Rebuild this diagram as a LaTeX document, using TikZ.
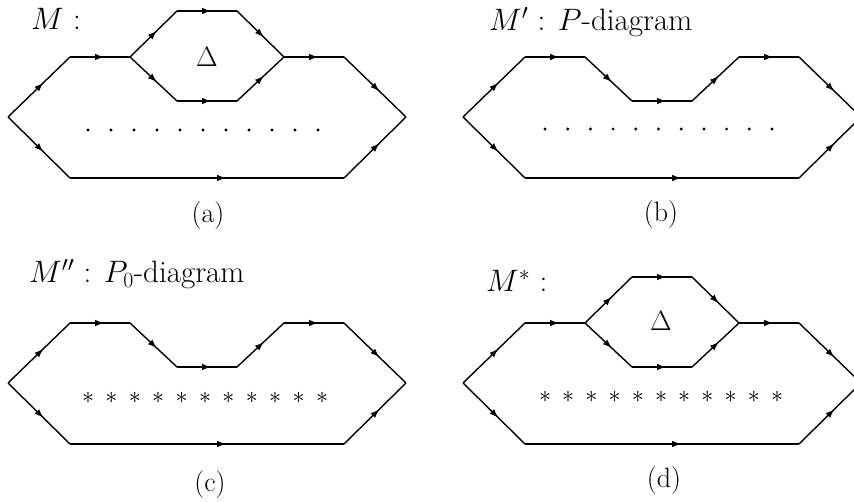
\RequirePackage{fix-cm}
\documentclass[tikz,border=0pt]{standalone}
\usetikzlibrary{arrows.meta,decorations.markings}
\newcommand{\mkverts}[3]{%
  \coordinate (#1L)  at ({#2-199},{117+#3});
  \coordinate (#1UL) at ({#2-137},{57+#3});
  \coordinate (#1A1) at ({#2-77},{57+#3});
  \coordinate (#1A2) at ({#2+77},{57+#3});
  \coordinate (#1UR) at ({#2+137},{57+#3});
  \coordinate (#1R)  at ({#2+199},{117+#3});
  \coordinate (#1BR) at ({#2+137},{178+#3});
  \coordinate (#1BL) at ({#2-137},{178+#3});
  \coordinate (#1T1) at ({#2-30},{11+#3});
  \coordinate (#1T2) at ({#2+30},{11+#3});
  \coordinate (#1D1) at ({#2-30},{101+#3});
  \coordinate (#1D2) at ({#2+30},{101+#3});
}
\tikzset{
  edge/.style={line width=1.4pt,postaction={decorate},
    decoration={markings,mark=at position 0.57 with {\arrow{Latex[length=9pt,width=6.5pt]}}}},
  head/.style={anchor=base west,inner sep=0pt,font=\fontsize{31}{34}\selectfont},
  sublabel/.style={inner sep=0pt,font=\fontsize{28}{30}\selectfont},
  deltalabel/.style={inner sep=0pt,font=\fontsize{28}{30}\selectfont},
  star/.style={inner sep=0pt,font=\fontsize{24}{26}\selectfont},
}
\begin{document}
\begin{tikzpicture}[x=1pt,y=-1pt]
\useasboundingbox (0,0) rectangle (854,502);
\clip (0,0) rectangle (854,502);
% ---------- (a)
\mkverts{a}{207}{0}
\draw[edge] (aL) -- (aUL);
\draw[edge] (aUL) -- (aA1);
\draw[edge] (aA1) -- (aT1);
\draw[edge] (aT1) -- (aT2);
\draw[edge] (aT2) -- (aA2);
\draw[edge] (aA1) -- (aD1);
\draw[edge] (aD1) -- (aD2);
\draw[edge] (aD2) -- (aA2);
\draw[edge] (aA2) -- (aUR);
\draw[edge] (aUR) -- (aR);
\draw[edge] (aL) -- (aBL);
\draw[edge] (aBL) -- (aBR);
\draw[edge] (aBR) -- (aR);
\foreach \i in {0,...,10} \fill ({88+23*\i},130) circle (1.6pt);
\node[deltalabel] (aDelta) at (207,57) {$\Delta$};
\node[head] (aHead) at (31,30) {$M$ :};
\node[sublabel] (aSub) at (208,216) {(a)};
% ---------- (b)
\mkverts{b}{662}{0}
\draw[edge] (bL) -- (bUL);
\draw[edge] (bUL) -- (bA1);
\draw[edge] (bA1) -- (bD1);
\draw[edge] (bD1) -- (bD2);
\draw[edge] (bD2) -- (bA2);
\draw[edge] (bA2) -- (bUR);
\draw[edge] (bUR) -- (bR);
\draw[edge] (bL) -- (bBL);
\draw[edge] (bBL) -- (bBR);
\draw[edge] (bBR) -- (bR);
\foreach \i in {0,...,10} \fill ({545+22.7*\i},129) circle (1.6pt);
\node[head] (bHead) at (489,31) {$M'$ : $P$-diagram};
\node[sublabel] (bSub) at (661,215) {(b)};
% ---------- (c)
\mkverts{c}{207}{266}
\draw[edge] (cL) -- (cUL);
\draw[edge] (cUL) -- (cA1);
\draw[edge] (cA1) -- (cD1);
\draw[edge] (cD1) -- (cD2);
\draw[edge] (cD2) -- (cA2);
\draw[edge] (cA2) -- (cUR);
\draw[edge] (cUR) -- (cR);
\draw[edge] (cL) -- (cBL);
\draw[edge] (cBL) -- (cBR);
\draw[edge] (cBR) -- (cR);
\foreach \i in {0,...,10} \node[star] (cs\i) at ({88+23.4*\i},398) {$\ast$};
\node[head] (cHead) at (29,283) {$M''$ : $P_0$-diagram};
\node[sublabel] (cSub) at (210,485) {(c)};
% ---------- (d)
\mkverts{d}{662}{266}
\draw[edge] (dL) -- (dUL);
\draw[edge] (dUL) -- (dA1);
\draw[edge] (dA1) -- (dT1);
\draw[edge] (dT1) -- (dT2);
\draw[edge] (dT2) -- (dA2);
\draw[edge] (dA1) -- (dD1);
\draw[edge] (dD1) -- (dD2);
\draw[edge] (dD2) -- (dA2);
\draw[edge] (dA2) -- (dUR);
\draw[edge] (dUR) -- (dR);
\draw[edge] (dL) -- (dBL);
\draw[edge] (dBL) -- (dBR);
\draw[edge] (dBR) -- (dR);
\foreach \i in {0,...,10} \node[star] (ds\i) at ({545+23.2*\i},397) {$\ast$};
\node[deltalabel] (dDelta) at (661,321) {$\Delta$};
\node[head] (dHead) at (486,292) {$M^*$ :};
\node[sublabel] (dSub) at (664,481) {(d)};
\end{tikzpicture}
\end{document}
